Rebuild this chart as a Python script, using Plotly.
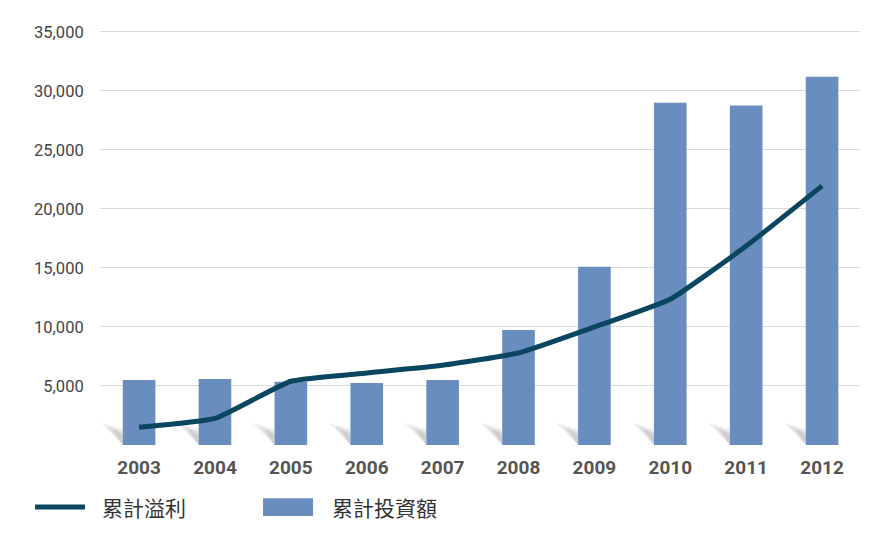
import plotly.graph_objects as go

# --- dados ---
anos = ['2003', '2004', '2005', '2006', '2007', '2008', '2009', '2010', '2011', '2012']
investimento = [5500, 5600, 5350, 5250, 5500, 9750, 15100, 29000, 28750, 31200]
lucro = [1500, 2250, 5400, 6100, 6750, 7800, 10000, 12350, 16850, 21950]
y_ticks = [5000, 10000, 15000, 20000, 25000, 30000, 35000]
y_labels = ['5,000', '10,000', '15,000', '20,000', '25,000', '30,000', '35,000']
nome_linha = '累計溢利'
nome_barra = '累計投資額'

COR_BARRA = '#6a8dbf'
COR_LINHA = '#0b4660'
FONTE_CJK = 'Noto Sans CJK TC'

fig = go.Figure()

fig.add_trace(go.Scatter(
    x=anos, y=lucro, name=nome_linha, mode='lines',
    line=dict(color=COR_LINHA, width=5, shape='spline', smoothing=0.4),
))
fig.add_trace(go.Bar(
    x=anos, y=investimento, name=nome_barra,
    marker=dict(color=COR_BARRA, line=dict(width=0)), width=0.43,
))

# sombra diagonal no pé de cada barra
largura = 0.43
for i in range(len(anos)):
    xl = i - largura / 2
    for k, alfa in enumerate([0.05, 0.07, 0.08]):
        d = 0.3 - k * 0.08
        fig.add_shape(
            type='path', xref='x', yref='y', layer='below',
            path=f'M {xl - d} {1900 - k * 250} L {xl} {1400 - k * 250} L {xl} 0 Z',
            fillcolor=f'rgba(0,0,0,{alfa})', line=dict(width=0),
        )

# legenda desenhada à mão (amostras maiores que as do plotly)
fig.add_shape(type='line', xref='paper', yref='paper',
              x0=-0.0855, x1=-0.0197, y0=-0.146, y1=-0.146,
              line=dict(color=COR_LINHA, width=5))
fig.add_shape(type='rect', xref='paper', yref='paper',
              x0=0.2145, x1=0.2803, y0=-0.167, y1=-0.125,
              fillcolor=COR_BARRA, line=dict(width=0))
for x, txt in [(0.0, nome_linha), (0.3026, nome_barra)]:
    fig.add_annotation(x=x, y=-0.146, xref='paper', yref='paper', text=txt,
                       showarrow=False, xanchor='left', yanchor='middle',
                       font=dict(family=FONTE_CJK, size=21, color='#333333'))

# a página tem 8px de margem no body: compensado aqui
fig.update_layout(
    width=863, height=532,
    margin=dict(l=92, r=11, t=12, b=95),
    plot_bgcolor='white', paper_bgcolor='white',
    showlegend=False,
    bargap=0.57,
)

fig.update_xaxes(
    type='category', showgrid=False, showline=False, zeroline=False,
    ticks='outside', ticklen=5, tickcolor='white',
    tickfont=dict(family='Roboto', size=19, color='#555555', weight='bold'),
)
fig.update_yaxes(
    range=[0, 36000], tickvals=y_ticks, ticktext=y_labels,
    showgrid=True, gridcolor='#d9d9d9', gridwidth=1, zeroline=False, showline=False,
    ticks='outside', ticklen=12, tickcolor='white',
    tickfont=dict(family='Roboto', size=16.5, color='#444444'),
)

fig.write_html('out.html')
